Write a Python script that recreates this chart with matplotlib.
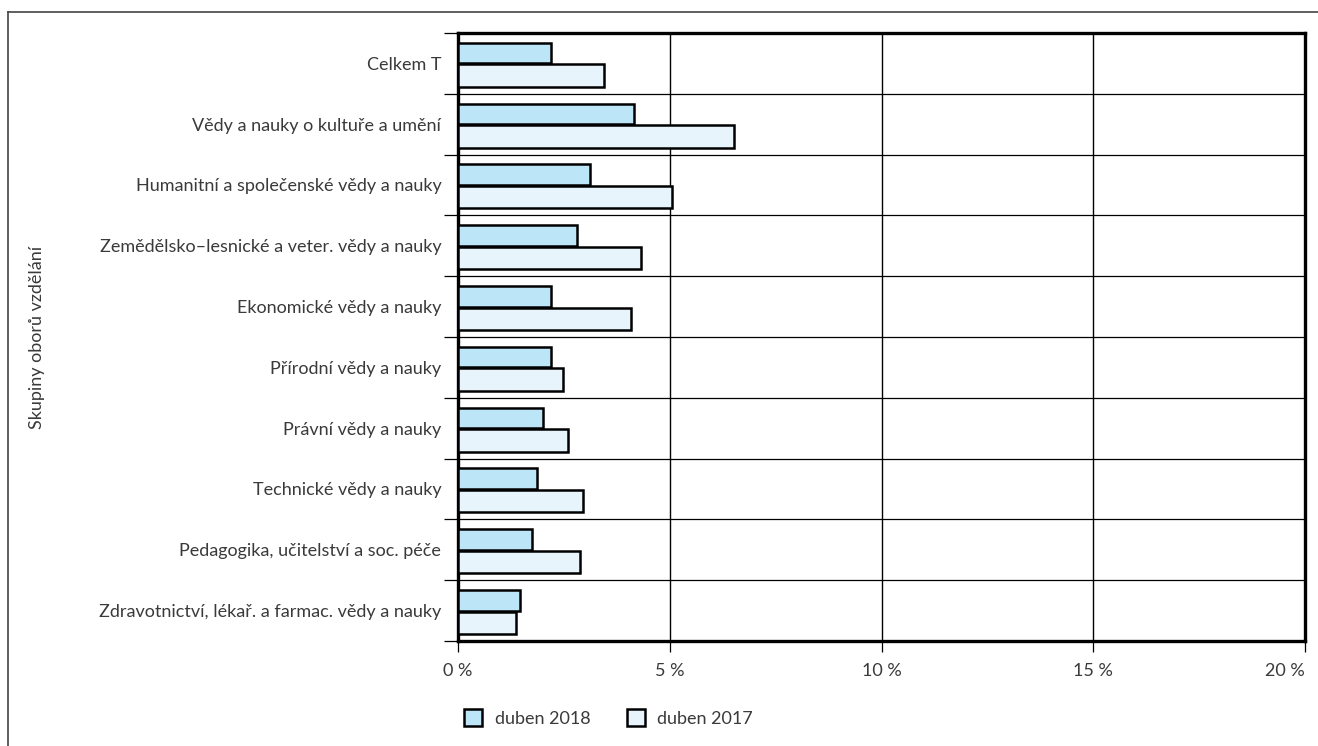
import numpy as np
import matplotlib
matplotlib.use('Agg')
import matplotlib.pyplot as plt
from matplotlib.lines import Line2D
from matplotlib.patches import Patch

categories = [
    'Celkem T',
    'Vědy a nauky o kultuře a umění',
    'Humanitní a společenské vědy a nauky',
    'Zemědělsko\u2013lesnické a veter. vědy a nauky',
    'Ekonomické vědy a nauky',
    'Přírodní vědy a nauky',
    'Právní vědy a nauky',
    'Technické vědy a nauky',
    'Pedagogika, učitelství a soc. péče',
    'Zdravotnictví, lékař. a farmac. vědy a nauky',
]
duben2018 = [2.2, 4.16, 3.12, 2.81, 2.2, 2.2, 2.0, 1.87, 1.75, 1.46]
duben2017 = [3.45, 6.52, 5.05, 4.32, 4.08, 2.48, 2.6, 2.95, 2.88, 1.37]
xticks = [0, 5, 10, 15, 20]
xticklabels = ['0 %', '5 %', '10 %', '15 %', '20 %']

plt.rcParams['font.family'] = ['Lato', 'DejaVu Sans']
textcolor = '#3a3a3a'
fs = 13

fig = plt.figure(figsize=(13.18, 7.46), dpi=100)
ax = fig.add_axes([458/1318, 1 - 641/746, (1305 - 458)/1318, (641 - 33)/746])

ypos = np.arange(len(categories))
ax.barh(ypos - 0.17, duben2018, height=0.34, color='#bde5f8', edgecolor='black', linewidth=1.8, zorder=3)
ax.barh(ypos + 0.2, duben2017, height=0.37, color='#e8f4fc', edgecolor='black', linewidth=1.8, zorder=3)

ax.set_xlim(0, 20)
ax.set_ylim(len(categories) - 0.5, -0.5)

# category separators
for b in np.arange(0.5, len(categories) - 0.5, 1):
    ax.axhline(b, color='black', linewidth=0.9, zorder=1)
for x in xticks[1:-1]:
    ax.axvline(x, color='black', linewidth=1.0, zorder=1)

ax.set_yticks(ypos)
ax.set_yticklabels(categories, fontsize=fs, color=textcolor)
ax.set_yticks(np.arange(-0.5, len(categories)), minor=True)
ax.tick_params(axis='y', which='major', length=0, pad=12)
ax.tick_params(axis='y', which='minor', length=10, width=0.9, direction='out')

ax.set_xticks(xticks)
ax.set_xticklabels(xticklabels, fontsize=fs, color=textcolor)
ax.get_xticklabels()[-1].set_horizontalalignment('right')
ax.tick_params(axis='x', length=8, width=0.9, direction='out', pad=8)

for s in ax.spines.values():
    s.set_linewidth(2.4)

ax.set_ylabel('Skupiny oborů vzdělání', fontsize=fs, color=textcolor)
ax.yaxis.set_label_coords(-(458 - 45)/(1305 - 458), 0.5)

handles = [Patch(facecolor='#bde5f8', edgecolor='black', linewidth=1.8),
           Patch(facecolor='#e8f4fc', edgecolor='black', linewidth=1.8)]
fig.legend(handles, ['duben 2018', 'duben 2017'], loc='center left',
           bbox_to_anchor=(448/1318, 1 - 718/746), ncol=2, frameon=False,
           handlelength=1.0, handleheight=1.0, handletextpad=0.7, columnspacing=2.0,
           prop={'size': fs}, labelcolor=textcolor)

# outer frame
fig.add_artist(Line2D([8/1318, 1], [1 - 12/746, 1 - 12/746], color='#444444', linewidth=1.2))
fig.add_artist(Line2D([8/1318, 8/1318], [0, 1 - 12/746], color='#444444', linewidth=1.2))

fig.savefig('out.png', dpi=100)
